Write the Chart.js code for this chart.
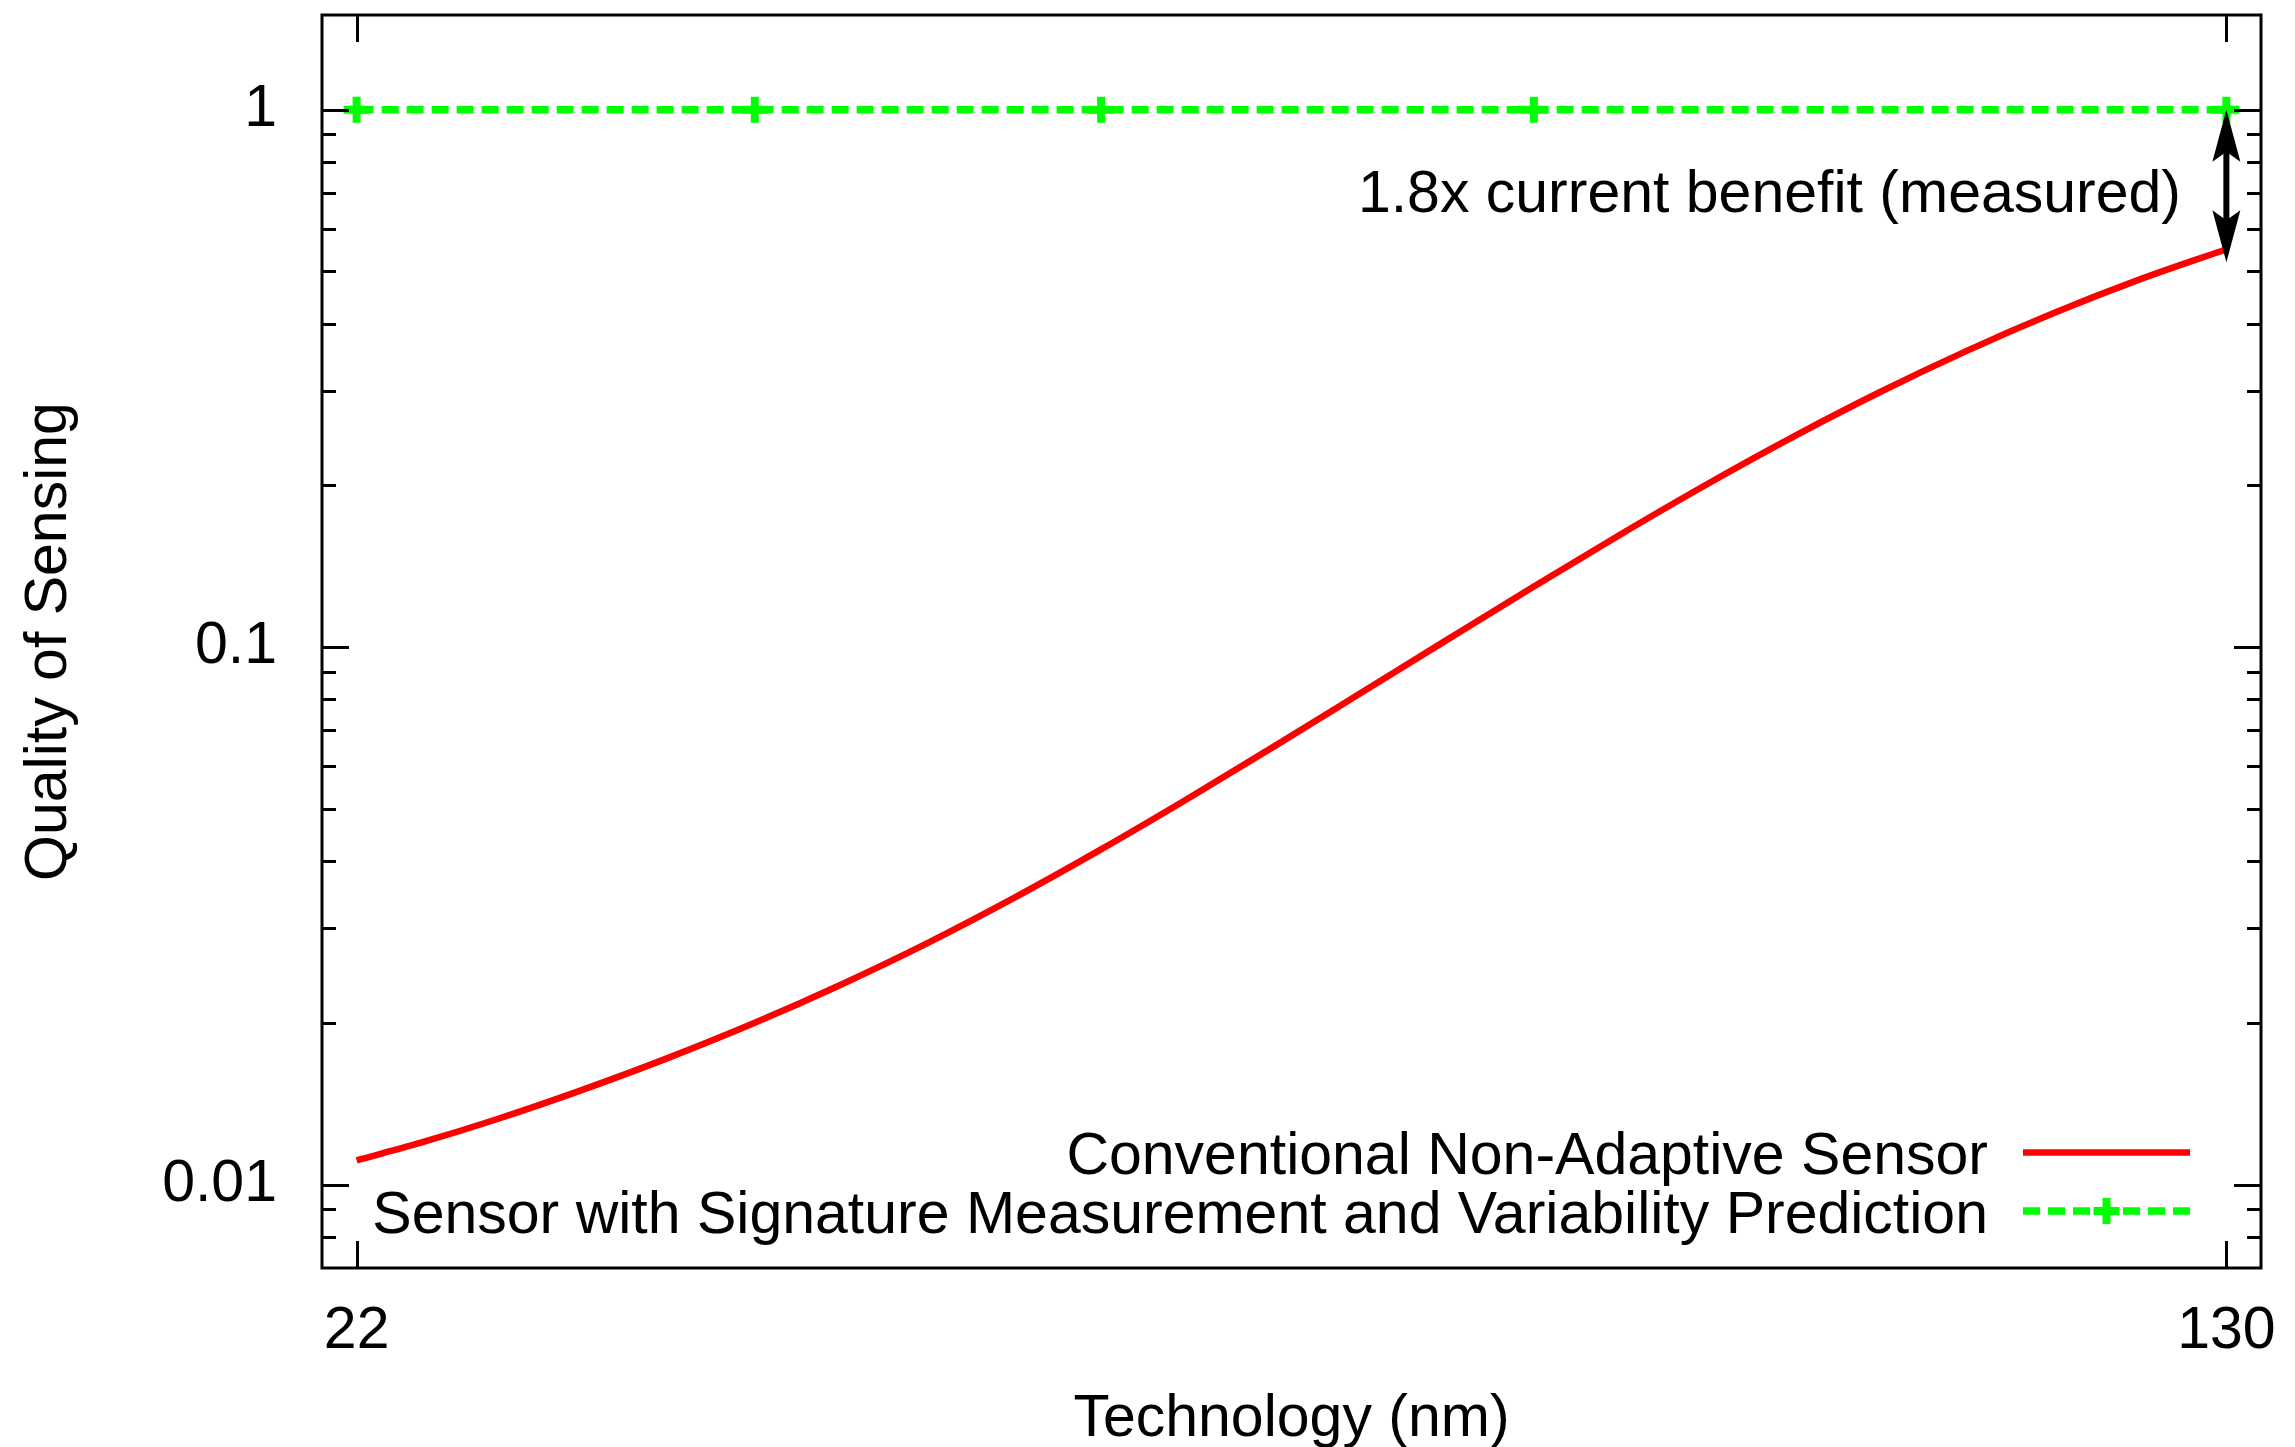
<!DOCTYPE html>
<html>
<head>
<meta charset="utf-8">
<script src="https://cdn.jsdelivr.net/npm/chart.js@4/dist/chart.umd.min.js"></script>
<style>
  html, body { margin: 0; padding: 0; background: #ffffff; }
  #wrap { width: 2295px; height: 1447px; }
</style>
</head>
<body>
<div id="wrap"><canvas id="c" width="2295" height="1447"></canvas></div>
<script>
// Technology node (nm) and sensing quality of the conventional sensor
const techNm = [22, 26, 30, 35, 40, 45, 50, 55, 60, 65, 70, 75, 80, 85, 90, 95, 100, 105, 110, 115, 120, 125, 130];
const conventionalQuality = [0.0111, 0.01205, 0.01321, 0.0150, 0.01722, 0.02001, 0.02358, 0.02818, 0.0342,
                             0.04205, 0.05224, 0.06539, 0.08215, 0.1033, 0.1297, 0.1621, 0.2010, 0.2465,
                             0.2984, 0.3559, 0.4180, 0.4833, 0.5500];

// Sensor with signature measurement and variability prediction
const adaptiveNm = [22, 45, 65, 90, 130];
const adaptiveQuality = [1, 1, 1, 1, 1];

const seriesNames = [
  'Conventional Non-Adaptive Sensor',
  'Sensor with Signature Measurement and Variability Prediction'
];

// Axis ticks
const xTickValues = [22, 130];
const xTickLabels = ['22', '130'];
const yTickValues = [0.008, 0.009, 0.01, 0.02, 0.03, 0.04, 0.05, 0.06, 0.07, 0.08, 0.09,
                     0.1, 0.2, 0.3, 0.4, 0.5, 0.6, 0.7, 0.8, 0.9, 1];
const yLabelValues = [0.01, 0.1, 1];
const yLabelTexts = ['0.01', '0.1', '1'];

// Benefit annotation at the 130 nm node
const benefitNote = '1.8x current benefit (measured)';
const benefitNode = 130;
const benefitSpan = [1, 0.52];

const FONT = '"Liberation Sans", Arial, Helvetica, sans-serif';
const FS = 59;

const frame = {
  id: 'frame',
  afterDraw(chart) {
    const { ctx, chartArea: a, scales: { x, y } } = chart;
    ctx.save();
    ctx.strokeStyle = '#000';
    ctx.lineWidth = 3;
    ctx.lineCap = 'butt';
    const seg = (x1, y1, x2, y2) => { ctx.beginPath(); ctx.moveTo(x1, y1); ctx.lineTo(x2, y2); ctx.stroke(); };

    // inward ticks on all four sides
    for (const t of y.ticks) {
      const py = Math.round(y.getPixelForValue(t.value)) + 0.5;
      const len = yLabelValues.includes(t.value) ? 27 : 14;
      seg(a.left, py, a.left + len, py);
      seg(a.right, py, a.right - len, py);
    }
    for (const t of x.ticks) {
      const px = Math.round(x.getPixelForValue(t.value)) + 0.5;
      seg(px, a.bottom, px, a.bottom - 27);
      seg(px, a.top, px, a.top + 27);
    }
    ctx.strokeRect(a.left, a.top, a.right - a.left, a.bottom - a.top);

    // double-headed arrow showing the benefit
    const ax = x.getPixelForValue(benefitNode);
    const yTop = y.getPixelForValue(benefitSpan[0]);
    const yBot = y.getPixelForValue(benefitSpan[1]);
    const headLen = 52, headHalf = 14, notch = 10;
    ctx.lineWidth = 6;
    seg(ax, yTop + headLen - notch, ax, yBot - headLen + notch);
    ctx.fillStyle = '#000';
    ctx.beginPath();
    ctx.moveTo(ax, yTop);
    ctx.lineTo(ax + headHalf, yTop + headLen);
    ctx.lineTo(ax, yTop + headLen - notch);
    ctx.lineTo(ax - headHalf, yTop + headLen);
    ctx.closePath();
    ctx.fill();
    ctx.beginPath();
    ctx.moveTo(ax, yBot);
    ctx.lineTo(ax + headHalf, yBot - headLen);
    ctx.lineTo(ax, yBot - headLen + notch);
    ctx.lineTo(ax - headHalf, yBot - headLen);
    ctx.closePath();
    ctx.fill();

    ctx.font = FS + 'px ' + FONT;
    ctx.fillStyle = '#000';
    ctx.textAlign = 'right';
    ctx.textBaseline = 'alphabetic';
    ctx.fillText(benefitNote, a.right - 80, a.top + 197);

    // key in the lower right corner
    const ds = chart.data.datasets;
    const textRight = a.right - 273;
    const sx1 = a.right - 238, sx2 = a.right - 71;
    const baselines = [a.bottom - 94, a.bottom - 35.5];
    ds.forEach((d, i) => {
      ctx.fillStyle = '#000';
      ctx.fillText(d.label, textRight, baselines[i]);
      const sy = baselines[i] - 21.5;
      ctx.strokeStyle = d.borderColor;
      ctx.lineWidth = d.borderWidth;
      ctx.setLineDash(d.borderDash || []);
      seg(sx1, sy, sx2, sy);
      ctx.setLineDash([]);
      if (d.pointRadius > 0) {
        const cx = (sx1 + sx2) / 2;
        ctx.lineWidth = d.pointBorderWidth;
        seg(cx - d.pointRadius, sy, cx + d.pointRadius, sy);
        seg(cx, sy - d.pointRadius, cx, sy + d.pointRadius);
      }
    });
    ctx.restore();
  }
};

new Chart(document.getElementById('c'), {
  type: 'scatter',
  data: {
    datasets: [
      {
        label: seriesNames[0],
        data: techNm.map((v, i) => ({ x: v, y: conventionalQuality[i] })),
        showLine: true,
        borderColor: '#ff0000',
        borderWidth: 6.5,
        pointRadius: 0,
        cubicInterpolationMode: 'monotone',
        fill: false
      },
      {
        label: seriesNames[1],
        data: adaptiveNm.map((v, i) => ({ x: v, y: adaptiveQuality[i] })),
        showLine: true,
        borderColor: '#00ff00',
        borderWidth: 7.5,
        borderDash: [17, 8],
        pointStyle: 'cross',
        pointRadius: 13,
        pointBorderWidth: 8,
        pointBorderColor: '#00ff00',
        pointBackgroundColor: '#00ff00',
        fill: false
      }
    ]
  },
  options: {
    responsive: false,
    devicePixelRatio: 1,
    animation: false,
    layout: { autoPadding: false, padding: { left: 0, top: 15, right: 34, bottom: 0 } },
    plugins: { legend: { display: false }, tooltip: { enabled: false } },
    scales: {
      x: {
        type: 'linear',
        min: 20,
        max: 132,
        grid: { display: false, drawTicks: false },
        border: { display: false },
        afterBuildTicks: (s) => { s.ticks = xTickValues.map(v => ({ value: v })); },
        afterFit: (s) => { s.height = 179; s.paddingLeft = 0; s.paddingRight = 0; },
        ticks: {
          autoSkip: false,
          maxRotation: 0,
          padding: 34,
          color: '#000',
          font: { family: FONT, size: FS, lineHeight: 1 },
          callback: (v) => { const i = xTickValues.indexOf(v); return i >= 0 ? xTickLabels[i] : ''; }
        },
        title: {
          display: true,
          text: 'Technology (nm)',
          color: '#000',
          font: { family: FONT, size: FS, lineHeight: 0.9 },
          padding: { top: 0, bottom: 1 }
        }
      },
      y: {
        type: 'logarithmic',
        min: 0.007,
        max: 1.5,
        grid: { display: false, drawTicks: false },
        border: { display: false },
        afterBuildTicks: (s) => { s.ticks = yTickValues.map(v => ({ value: v })); },
        afterFit: (s) => { s.width = 322; s.paddingTop = 0; s.paddingBottom = 0; },
        ticks: {
          autoSkip: false,
          padding: 45,
          color: '#000',
          font: { family: FONT, size: FS, lineHeight: 1 },
          callback: (v) => { const i = yLabelValues.indexOf(v); return i >= 0 ? yLabelTexts[i] : ''; }
        },
        title: {
          display: true,
          text: 'Quality of Sensing',
          color: '#000',
          font: { family: FONT, size: FS, lineHeight: 1 },
          padding: { top: 20, bottom: 0 }
        }
      }
    }
  },
  plugins: [frame]
});
</script>
</body>
</html>
